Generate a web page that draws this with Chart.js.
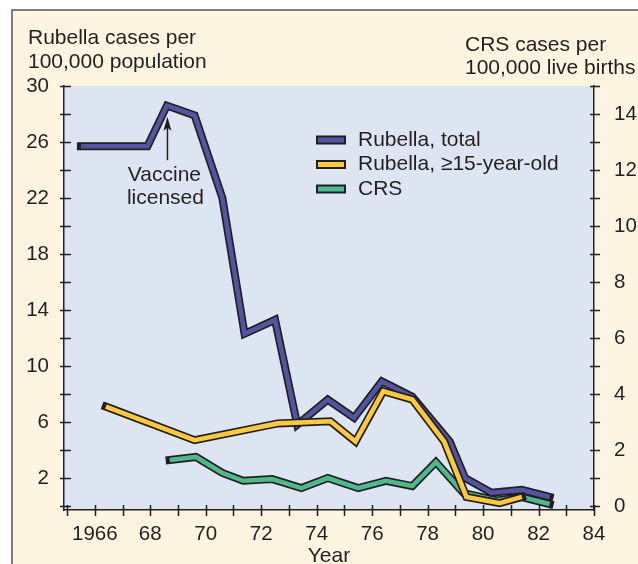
<!DOCTYPE html>
<html>
<head>
<meta charset="utf-8">
<script src="https://cdn.jsdelivr.net/npm/chart.js@4"></script>
<style>
  html, body { margin: 0; padding: 0; background: #fff; }
  #wrap { width: 638px; height: 564px; }
</style>
</head>
<body>
<div id="wrap"><canvas id="rubellaChart" width="638" height="564"></canvas></div>
<script>
// Rubella, total (per 100,000 population)
const totalYears = [1965.5, 1967.9, 1968.6, 1969.6, 1970.6, 1971.4, 1972.5, 1973.3, 1974.4, 1975.35, 1976.35, 1977.45, 1978.8, 1979.35, 1980.3, 1981.4, 1982.4];
const totalCases = [25.7, 25.7, 28.6, 27.9, 22.0, 12.3, 13.3, 5.8, 7.6, 6.3, 8.9, 7.8, 4.6, 2.0, 0.95, 1.15, 0.65];

// Rubella, >=15 years old (per 100,000 population)
const adultYears = [1966.4, 1969.6, 1972.6, 1974.5, 1975.4, 1976.4, 1977.45, 1978.6, 1979.4, 1980.6, 1981.4];
const adultCases = [7.1, 4.7, 5.9, 6.05, 4.6, 8.2, 7.6, 4.6, 0.65, 0.2, 0.65];

// CRS (per 100,000 live births, right axis)
const crsYears = [1968.7, 1969.65, 1970.6, 1971.35, 1972.4, 1973.45, 1974.4, 1975.5, 1976.5, 1977.45, 1978.3, 1979.3, 1980.5, 1981.4, 1982.4];
const crsCases = [1.64, 1.75, 1.18, 0.9, 0.96, 0.64, 1.0, 0.64, 0.9, 0.71, 1.57, 0.46, 0.2, 0.32, 0.07];

// tick positions
const yearTicks = [1965, 1966, 1967, 1968, 1969, 1970, 1971, 1972, 1973, 1974, 1975, 1976, 1977, 1978, 1979, 1980, 1981, 1982, 1983, 1984];
const leftTicks = [0, 2, 4, 6, 8, 10, 12, 14, 16, 18, 20, 22, 24, 26, 28, 30];
const rightTicks = [0, 1, 2, 3, 4, 5, 6, 7, 8, 9, 10, 11, 12, 13, 14, 15];

const INK = '#231f20';
const FONT = "'Liberation Sans', Arial, Helvetica, sans-serif";
const PURPLE = '#5354a2';
const YELLOW = '#fdc93e';
const GREEN = '#4db98c';

function points(xs, ys) {
    return xs.map((x, i) => ({ x: x, y: ys[i] }));
}

// each series is drawn twice: a dark wide stroke under a narrower coloured one
function outlined(label, xs, ys, color, axis, order) {
    const base = {
        data: points(xs, ys),
        yAxisID: axis,
        pointRadius: 0,
        borderJoinStyle: 'miter',
        tension: 0
    };
    return [
        Object.assign({}, base, { label: label + ' outline', borderColor: INK, borderWidth: 8, borderCapStyle: 'square', order: order + 1 }),
        Object.assign({}, base, { label: label, borderColor: color, borderWidth: 4.6, borderCapStyle: 'butt', order: order })
    ];
}

const legendItems = [
    { text: 'Rubella, total', color: PURPLE },
    { text: 'Rubella, \u226515-year-old', color: YELLOW },
    { text: 'CRS', color: GREEN }
];

function fixedTicks(values) {
    return function (scale) {
        scale.ticks = values.map(v => ({ value: v }));
    };
}

const decorPlugin = {
    id: 'decor',
    beforeDraw(chart) {
        const ctx = chart.ctx;
        const a = chart.chartArea;
        ctx.save();
        ctx.fillStyle = '#ffffff';
        ctx.fillRect(0, 0, chart.width, chart.height);
        ctx.fillStyle = '#fdf5e2';
        ctx.fillRect(12, 10, chart.width - 12, chart.height - 10);
        ctx.strokeStyle = '#555555';
        ctx.lineWidth = 1.5;
        ctx.beginPath();
        ctx.moveTo(12, chart.height);
        ctx.lineTo(12, 10);
        ctx.lineTo(chart.width, 10);
        ctx.stroke();
        ctx.fillStyle = '#dde5f2';
        ctx.fillRect(a.left, a.top, a.right - a.left, a.bottom - a.top);
        ctx.restore();
    },
    afterDraw(chart) {
        const ctx = chart.ctx;
        const a = chart.chartArea;
        const x = chart.scales.x;
        const yl = chart.scales.y;
        const yr = chart.scales.y2;
        ctx.save();
        ctx.strokeStyle = INK;
        ctx.lineWidth = 1.5;

        // tick marks crossing the axes
        ctx.beginPath();
        yearTicks.forEach(v => {
            const px = Math.round(x.getPixelForValue(v)) + 0.5;
            ctx.moveTo(px, a.bottom - 5);
            ctx.lineTo(px, a.bottom + 6);
        });
        leftTicks.forEach(v => {
            const py = Math.round(yl.getPixelForValue(v)) + 0.5;
            ctx.moveTo(a.left - 4, py);
            ctx.lineTo(a.left + 7, py);
        });
        rightTicks.forEach(v => {
            const py = Math.round(yr.getPixelForValue(v)) + 0.5;
            ctx.moveTo(a.right - 4, py);
            ctx.lineTo(a.right + 6, py);
        });
        ctx.stroke();

        ctx.fillStyle = INK;
        ctx.font = '21px ' + FONT;
        ctx.textBaseline = 'alphabetic';

        // axis titles
        ctx.textAlign = 'left';
        ctx.fillText('Rubella cases per', 28, 44);
        ctx.fillText('100,000 population', 28, 68);
        ctx.fillText('CRS cases per', 465, 51);
        ctx.fillText('100,000 live births', 465, 74);
        ctx.textAlign = 'center';
        ctx.fillText('Year', (a.left + a.right) / 2, 562);

        // vaccine licensing note
        const vx = x.getPixelForValue(1968.62);
        ctx.fillText('Vaccine', vx - 3, 181);
        ctx.fillText('licensed', vx - 2, 204);
        const tipY = yl.getPixelForValue(27.8);
        const tailY = yl.getPixelForValue(24.7);
        ctx.beginPath();
        ctx.moveTo(vx, tailY);
        ctx.lineTo(vx, tipY + 8);
        ctx.stroke();
        ctx.beginPath();
        ctx.moveTo(vx, tipY);
        ctx.lineTo(vx - 4, tipY + 14);
        ctx.lineTo(vx, tipY + 11);
        ctx.lineTo(vx + 4, tipY + 14);
        ctx.closePath();
        ctx.fill();

        // legend
        ctx.textAlign = 'left';
        ctx.textBaseline = 'middle';
        legendItems.forEach((item, i) => {
            const cy = 140 + i * 24.5;
            ctx.fillStyle = INK;
            ctx.fillRect(316, cy - 4.5, 30, 9);
            ctx.fillStyle = item.color;
            ctx.fillRect(318, cy - 2.5, 26, 5);
            ctx.fillStyle = INK;
            ctx.fillText(item.text, 358, cy);
        });
        ctx.restore();
    }
};

const ctx = document.getElementById('rubellaChart').getContext('2d');
const rubellaChart = new Chart(ctx, {
    type: 'line',
    data: {
        datasets: [
            ...outlined('Rubella, total', totalYears, totalCases, PURPLE, 'y', 3),
            ...outlined('Rubella, \u226515-year-old', adultYears, adultCases, YELLOW, 'y', 1),
            ...outlined('CRS', crsYears, crsCases, GREEN, 'y2', 5)
        ]
    },
    options: {
        responsive: false,
        animation: false,
        layout: { padding: { top: 86, left: 0, right: 0, bottom: 0 } },
        plugins: {
            legend: { display: false },
            tooltip: { enabled: false }
        },
        scales: {
            x: {
                type: 'linear',
                position: 'bottom',
                min: 1964.89,
                max: 1984,
                afterBuildTicks: fixedTicks(yearTicks),
                afterFit(scale) { scale.height = 54; },
                grid: { display: false, drawTicks: false },
                border: { display: true, color: INK, width: 1.5 },
                ticks: {
                    autoSkip: false,
                    maxRotation: 0,
                    padding: 12,
                    color: INK,
                    font: { family: FONT, size: 20.5 },
                    callback: v => v === 1966 ? '1966' : (v % 2 === 0 ? String(v).slice(2) : '')
                }
            },
            y: {
                position: 'left',
                min: -4 / 14,
                max: 30,
                afterBuildTicks: fixedTicks(leftTicks),
                afterFit(scale) { scale.width = 64; },
                grid: { display: false, drawTicks: false },
                border: { display: true, color: INK, width: 1.5 },
                ticks: {
                    autoSkip: false,
                    padding: 15,
                    color: INK,
                    font: { family: FONT, size: 20.5 },
                    callback: v => (v - 2) % 4 === 0 ? String(v) : ''
                }
            },
            y2: {
                position: 'right',
                min: -4 / 28,
                max: 15,
                afterBuildTicks: fixedTicks(rightTicks),
                afterFit(scale) { scale.width = 44; },
                grid: { display: false, drawTicks: false },
                border: { display: true, color: INK, width: 1.5 },
                ticks: {
                    autoSkip: false,
                    padding: 20,
                    color: INK,
                    font: { family: FONT, size: 20.5 },
                    callback: v => v % 2 === 0 ? String(v) : ''
                }
            }
        }
    },
    plugins: [decorPlugin]
});
</script>
</body>
</html>
